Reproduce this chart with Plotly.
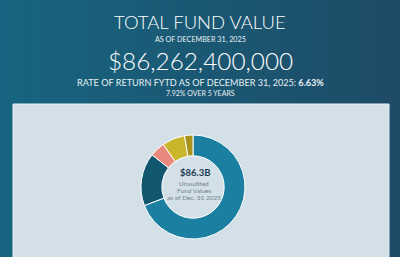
import plotly.graph_objects as go

# ---- data ----
segments = ["Segment A", "Segment B", "Segment C", "Segment D", "Segment E"]
shares = [69.2, 16.4, 4.7, 7.1, 2.6]
seg_colors = ["#1a7fa0", "#10566e", "#e8897d", "#c9b62b", "#a8931f"]

title_text = "TOTAL FUND VALUE"
asof_text = "AS OF DECEMBER 31, 2025"
total_text = "$86,262,400,000"
ror_text = "RATE OF RETURN FYTD AS OF DECEMBER 31, 2025: <b>6.63%</b>"
five_year_text = "7.92% OVER 5 YEARS"
center_value = "$86.3B"
center_lines = ["Unaudited", "Fund Values", "as of Dec. 31 2025"]

W, H = 400, 257

def hexmix(c1, c2, t):
    a = [int(c1[i:i+2], 16) for i in (1, 3, 5)]
    b = [int(c2[i:i+2], 16) for i in (1, 3, 5)]
    return "#" + "".join(f"{round(a[k] + (b[k]-a[k])*t):02x}" for k in range(3))

shapes = []
n = 50
for i in range(n):
    t = i / (n - 1)
    shapes.append(dict(type="rect", xref="paper", yref="paper",
                       x0=i / n, x1=(i + 1) / n + 0.002, y0=0, y1=1,
                       fillcolor=hexmix("#176580", "#1e4b67", t),
                       line=dict(width=0), layer="below"))
# panel
shapes.append(dict(type="rect", xref="paper", yref="paper",
                   x0=13 / W, x1=389 / W, y0=-0.05, y1=1 - 104 / H,
                   fillcolor="#d3e0e8", line=dict(color="#e6f1f7", width=1),
                   layer="below"))

fig = go.Figure(go.Pie(
    labels=segments, values=shares, sort=False, direction="clockwise",
    rotation=0, hole=0.6, textinfo="none", hoverinfo="label+percent",
    marker=dict(colors=seg_colors, line=dict(color="#ffffff", width=1)),
    domain=dict(x=[141 / W, 245 / W], y=[18 / H, 122 / H]),
    showlegend=False,
))

def yp(py):
    return 1 - py / H

ann = [
    dict(text=title_text, x=0.5, y=yp(22), font=dict(size=18.5, color="#ffffff", family="Lato", weight=300)),
    dict(text=asof_text, x=0.5, y=yp(39), font=dict(size=7.2, color="#e8f0f4", family="Lato")),
    dict(text=total_text, x=0.5, y=yp(60), font=dict(size=24.3, color="#ffffff", family="Lato", weight=300)),
    dict(text=ror_text, x=0.5, y=yp(83), font=dict(size=9.1, color="#e8f0f4", family="Lato")),
    dict(text=five_year_text, x=0.5, y=yp(93), font=dict(size=7, color="#e8f0f4", family="Lato")),
    dict(text="<b>" + center_value + "</b>", x=195 / W, y=yp(172), font=dict(size=9.5, color="#1d3c50", family="Lato")),
    dict(text=center_lines[0], x=194 / W, y=yp(183), font=dict(size=6.5, color="#6f8290", family="Lato")),
    dict(text=center_lines[1], x=194 / W, y=yp(190), font=dict(size=6.5, color="#6f8290", family="Lato")),
    dict(text=center_lines[2], x=194 / W, y=yp(197), font=dict(size=6.5, color="#6f8290", family="Lato")),
]
for a in ann:
    a.update(xref="paper", yref="paper", showarrow=False, xanchor="center", yanchor="middle")

fig.update_layout(
    width=W, height=H, autosize=False,
    margin=dict(l=0, r=0, t=0, b=0),
    paper_bgcolor="#1b5a75", plot_bgcolor="rgba(0,0,0,0)",
    shapes=shapes, annotations=ann,
)
fig.write_html("out.html")
